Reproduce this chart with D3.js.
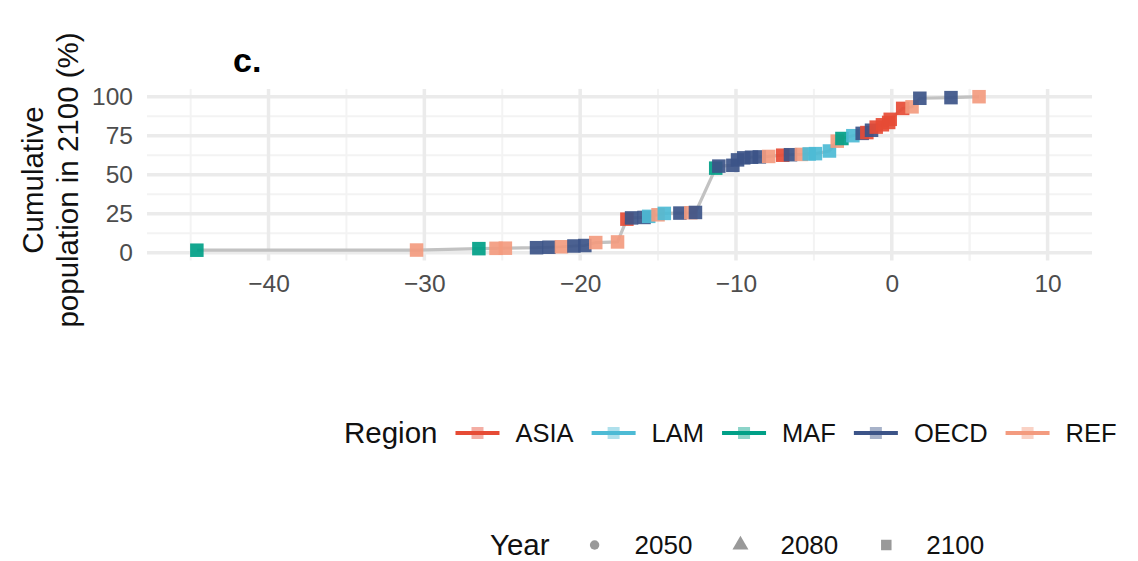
<!DOCTYPE html>
<html>
<head>
<meta charset="utf-8">
<script src="https://cdn.jsdelivr.net/npm/d3@7"></script>
<style>
  body { margin: 0; background: #fff; }
  svg { display: block; font-family: "Liberation Sans", Arial, sans-serif; }
</style>
</head>
<body>
<svg id="chart" width="1138" height="561"></svg>
<script>
// values, in the order of the line
var region = ["MAF","REF","MAF","REF","REF","OECD","OECD","REF","OECD","OECD",
              "REF","REF","ASIA","OECD","OECD","LAM","REF","LAM","OECD","REF",
              "OECD","MAF","OECD","OECD","OECD","OECD","OECD","OECD","REF","ASIA",
              "OECD","REF","LAM","LAM","LAM","REF","MAF","LAM","OECD","ASIA",
              "OECD","ASIA","ASIA","ASIA","ASIA","ASIA","REF","OECD","OECD","REF"];
var change = [-44.6,-30.5,-26.5,-25.4,-24.8,-22.8,-22.0,-21.2,-20.4,-19.7,
              -19.0,-17.6,-17.0,-16.7,-15.9,-15.6,-15.0,-14.6,-13.6,-12.9,
              -12.6,-11.3,-11.1,-10.2,-9.9,-9.5,-9.0,-8.5,-7.9,-7.0,
              -6.5,-5.8,-5.3,-4.9,-4.0,-3.5,-3.2,-2.5,-1.9,-1.6,
              -1.3,-1.0,-0.6,-0.2,-0.1,0.7,1.3,1.8,3.8,5.6];
var cumPop = [1.6,1.7,2.6,2.8,2.9,3.2,3.5,3.8,4.3,4.6,
              6.5,6.9,21.5,22.3,22.6,23.3,24.3,25.2,25.4,25.6,
              25.8,54.2,55.5,56.0,59.5,60.8,61.2,61.4,61.7,62.5,
              62.8,63.0,63.3,63.5,65.2,71.5,73.2,75.0,76.5,77.0,
              78.5,80.5,82.0,83.5,85.5,92.5,93.5,99.0,99.4,100];
var regions = ["ASIA","LAM","MAF","OECD","REF"];
var regionColors = ["#E64B35","#4DBBD5","#00A087","#3C5488","#F39B7F"];
var years = ["2050","2080","2100"];
var xTicks = [-40,-30,-20,-10,0,10];
var yTicks = [0,25,50,75,100];

var svg = d3.select("#chart");
var pLeft = 147, pRight = 1092, pTop = 88.9, pBottom = 260.5;

var x = d3.scaleLinear().domain([-47.8, 12.85]).range([pLeft, pRight]);
var y = d3.scaleLinear().domain([-5, 105]).range([pBottom, pTop]);
var color = d3.scaleOrdinal().domain(regions).range(regionColors);

var pts = change.map(function(c, i) { return { x: c, y: cumPop[i], r: region[i] }; });

// grid
var grid = svg.append("g");
var xMinor = xTicks.map(function(t) { return t - 5; }).concat([5]);
var yMinor = [12.5, 37.5, 62.5, 87.5];
grid.selectAll(".xm").data(xMinor).enter().append("line")
  .attr("x1", d => x(d)).attr("x2", d => x(d)).attr("y1", pTop).attr("y2", pBottom)
  .attr("stroke", "#f3f3f3").attr("stroke-width", 2);
grid.selectAll(".ym").data(yMinor).enter().append("line")
  .attr("x1", pLeft).attr("x2", pRight).attr("y1", d => y(d)).attr("y2", d => y(d))
  .attr("stroke", "#f3f3f3").attr("stroke-width", 2);
grid.selectAll(".xg").data(xTicks).enter().append("line")
  .attr("x1", d => x(d)).attr("x2", d => x(d)).attr("y1", pTop).attr("y2", pBottom)
  .attr("stroke", "#ebebeb").attr("stroke-width", 3.5);
grid.selectAll(".yg").data(yTicks).enter().append("line")
  .attr("x1", pLeft).attr("x2", pRight).attr("y1", d => y(d)).attr("y2", d => y(d))
  .attr("stroke", "#ebebeb").attr("stroke-width", 3.5);

// axes
var xAxis = svg.append("g").attr("transform", "translate(0," + pBottom + ")")
  .call(d3.axisBottom(x).tickValues(xTicks).tickSize(0).tickPadding(14)
    .tickFormat(d => d < 0 ? "\u2212" + Math.abs(d) : d));
var yAxis = svg.append("g").attr("transform", "translate(" + pLeft + ",0)")
  .call(d3.axisLeft(y).tickValues(yTicks).tickSize(0).tickPadding(14));
[xAxis, yAxis].forEach(function(a) {
  a.select(".domain").remove();
  a.selectAll("text").attr("fill", "#4d4d4d").style("font-size", "24.5px")
    .style("font-family", "'Liberation Sans', Arial, sans-serif");
});

// line + points
svg.append("path").datum(pts)
  .attr("fill", "none").attr("stroke", "#c2c2c2").attr("stroke-width", 3.2)
  .attr("d", d3.line().x(d => x(d.x)).y(d => y(d.y)));
var sq = 13.5;
svg.selectAll(".pt").data(pts).enter().append("rect")
  .attr("x", d => x(d.x) - sq / 2).attr("y", d => y(d.y) - sq / 2)
  .attr("width", sq).attr("height", sq)
  .attr("fill", d => color(d.r)).attr("fill-opacity", 0.92);

// title
svg.append("text").attr("x", 233).attr("y", 72)
  .style("font-size", "34px").style("font-weight", "bold").text("c.");

// y axis title
var yt = svg.append("text").attr("transform", "translate(0,180) rotate(-90)")
  .attr("text-anchor", "middle").style("font-size", "29.5px").attr("fill", "#111");
yt.append("tspan").attr("x", 0).attr("y", 43).text("Cumulative");
yt.append("tspan").attr("x", 0).attr("y", 78).text("population in 2100 (%)");

// region legend
var lg = svg.append("g");
var lx = 344, ly = 433;
var t0 = lg.append("text").attr("x", lx).attr("y", ly + 10).style("font-size", "29.5px")
  .attr("fill", "#111").text("Region");
lx += t0.node().getComputedTextLength() + 18;
regions.forEach(function(r) {
  lg.append("line").attr("x1", lx).attr("x2", lx + 44).attr("y1", ly).attr("y2", ly)
    .attr("stroke", color(r)).attr("stroke-width", 4);
  lg.append("rect").attr("x", lx + 22 - 6).attr("y", ly - 6).attr("width", 12).attr("height", 12)
    .attr("fill", color(r)).attr("fill-opacity", 0.45);
  var t = lg.append("text").attr("x", lx + 60).attr("y", ly + 9).style("font-size", "25.5px")
    .attr("fill", "#111").text(r);
  lx += 60 + t.node().getComputedTextLength() + 18;
});

// year legend
var yg = svg.append("g");
var yx = 490, yy = 545;
var t1 = yg.append("text").attr("x", yx).attr("y", yy + 10).style("font-size", "29.5px")
  .attr("fill", "#111").text("Year");
yx += t1.node().getComputedTextLength() + 23;
var shapes = [d3.symbolCircle, d3.symbolTriangle, d3.symbolSquare];
years.forEach(function(yr, i) {
  yg.append("path").attr("transform", "translate(" + (yx + 22) + "," + yy + ")")
    .attr("d", d3.symbol().type(shapes[i]).size(i === 0 ? 70 : 110))
    .attr("fill", "#999");
  var t = yg.append("text").attr("x", yx + 62).attr("y", yy + 9).style("font-size", "26px")
    .attr("fill", "#111").text(yr);
  yx += 62 + t.node().getComputedTextLength() + 26;
});
</script>
</body>
</html>
